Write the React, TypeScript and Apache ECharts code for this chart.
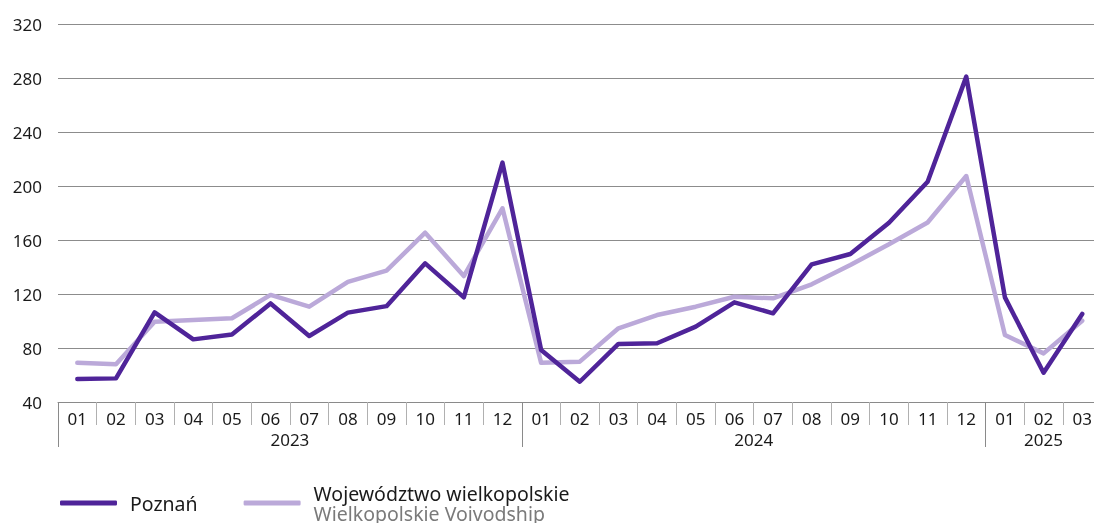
import React, { useEffect, useRef } from "react";
import * as echarts from "echarts";

const months = [
  "01", "02", "03", "04", "05", "06", "07", "08", "09", "10", "11", "12",
  "01", "02", "03", "04", "05", "06", "07", "08", "09", "10", "11", "12",
  "01", "02", "03",
];
const yearLabels: Record<number, string> = { 12: "2023", 36: "2024", 51: "2025" };
const yearBoundaries = [0, 24, 48, 54];

const poznan = [
  57, 57.5, 106.4, 86.4, 90, 113, 88.9, 106.2, 111, 142.7, 117.5, 217.3,
  78.5, 55, 83, 83.5, 95.8, 113.8, 105.7, 142, 149.6, 172.8, 203.2, 281,
  117.5, 61.7, 105.2,
];
const wielkopolskie = [
  69, 68, 99.5, 100.7, 102, 119.3, 110.6, 129, 137.3, 165.4, 133.3, 183.5,
  69, 69.9, 94.6, 104.4, 110.6, 118, 116.8, 127.2, 141.5, 156.8, 173, 207.4,
  89.6, 76, 100.2,
];

const NAME_P = "Poznań";
const NAME_W = "Województwo wielkopolskie";
const NAME_W_EN = "Wielkopolskie Voivodship";
const DARK = "#4f2499";
const LIGHT = "#bba9d9";
const FONT = "'Noto Sans', sans-serif";

export default function App() {
  const ref = useRef<HTMLDivElement>(null);
  useEffect(() => {
    if (!ref.current) return;
    const chart = echarts.init(ref.current, undefined, { renderer: "svg" });
    const halfSlots = Array.from({ length: 55 }, (_, i) => String(i));
    chart.setOption({
      animation: false,
      textStyle: { fontFamily: FONT },
      grid: { left: 58, top: 24, height: 378, width: 27 * 38.65 },
      legend: {
        left: 55,
        top: 478,
        icon: "roundRect",
        itemWidth: 57,
        itemHeight: 5,
        itemGap: 46,
        data: [NAME_P, NAME_W],
        textStyle: {
          fontFamily: FONT,
          fontSize: 20,
          color: "#1a1a1a",
          padding: [0, 0, 0, 8],
          rich: {
            p: { fontFamily: FONT, fontSize: 19.5, color: "#1a1a1a", lineHeight: 20 },
            a: { fontFamily: FONT, fontSize: 19.5, color: "#1a1a1a", lineHeight: 20 },
            b: { fontFamily: FONT, fontSize: 19.5, color: "#7a7a7a", lineHeight: 20 },
          },
        },
        formatter: (name: string) =>
          name === NAME_W ? `{a|${NAME_W}}\n{b|${NAME_W_EN}}` : `{p|${name}}`,
      },
      xAxis: [
        {
          type: "category",
          data: months,
          boundaryGap: true,
          position: "bottom",
          axisLine: { show: true, lineStyle: { color: "#8a8a8a", width: 1 } },
          axisTick: {
            show: true,
            interval: 0,
            length: 23,
            lineStyle: { color: "#b0b0b0", width: 1 },
          },
          axisLabel: {
            interval: 0,
            margin: 8,
            fontSize: 17,
            color: "#1a1a1a",
            fontFamily: FONT,
          },
          splitLine: { show: false },
        },
        {
          type: "category",
          data: halfSlots,
          boundaryGap: false,
          position: "bottom",
          offset: 0,
          axisLine: { show: false },
          axisTick: {
            show: true,
            length: 45,
            interval: (i: number) => yearBoundaries.includes(i),
            lineStyle: { color: "#8a8a8a", width: 1 },
          },
          axisLabel: {
            show: true,
            interval: (i: number) => yearLabels[i] !== undefined,
            formatter: (_v: string, i: number) => yearLabels[i] || "",
            margin: 29,
            fontSize: 17,
            color: "#1a1a1a",
            fontFamily: FONT,
          },
          splitLine: { show: false },
        },
      ],
      yAxis: {
        type: "value",
        min: 40,
        max: 320,
        interval: 40,
        axisLine: { show: false },
        axisTick: { show: false },
        axisLabel: { margin: 16, fontSize: 17, color: "#1a1a1a", fontFamily: FONT },
        splitLine: { lineStyle: { color: "#8c8c8c", width: 1 } },
      },
      series: [
        {
          name: NAME_W,
          type: "line",
          data: wielkopolskie,
          xAxisIndex: 0,
          symbol: "none",
          color: LIGHT,
          lineStyle: { color: LIGHT, width: 4.5, join: "round", cap: "round" },
        },
        {
          name: NAME_P,
          type: "line",
          data: poznan,
          xAxisIndex: 0,
          symbol: "none",
          color: DARK,
          lineStyle: { color: DARK, width: 4.5, join: "round", cap: "round" },
        },
      ],
    });
    return () => chart.dispose();
  }, []);
  return (
    <div
      style={{
        position: "fixed",
        left: 0,
        top: 0,
        width: 1094,
        height: 523,
        overflow: "hidden",
      }}
    >
      <div ref={ref} style={{ width: 1102, height: 523 }} />
    </div>
  );
}
